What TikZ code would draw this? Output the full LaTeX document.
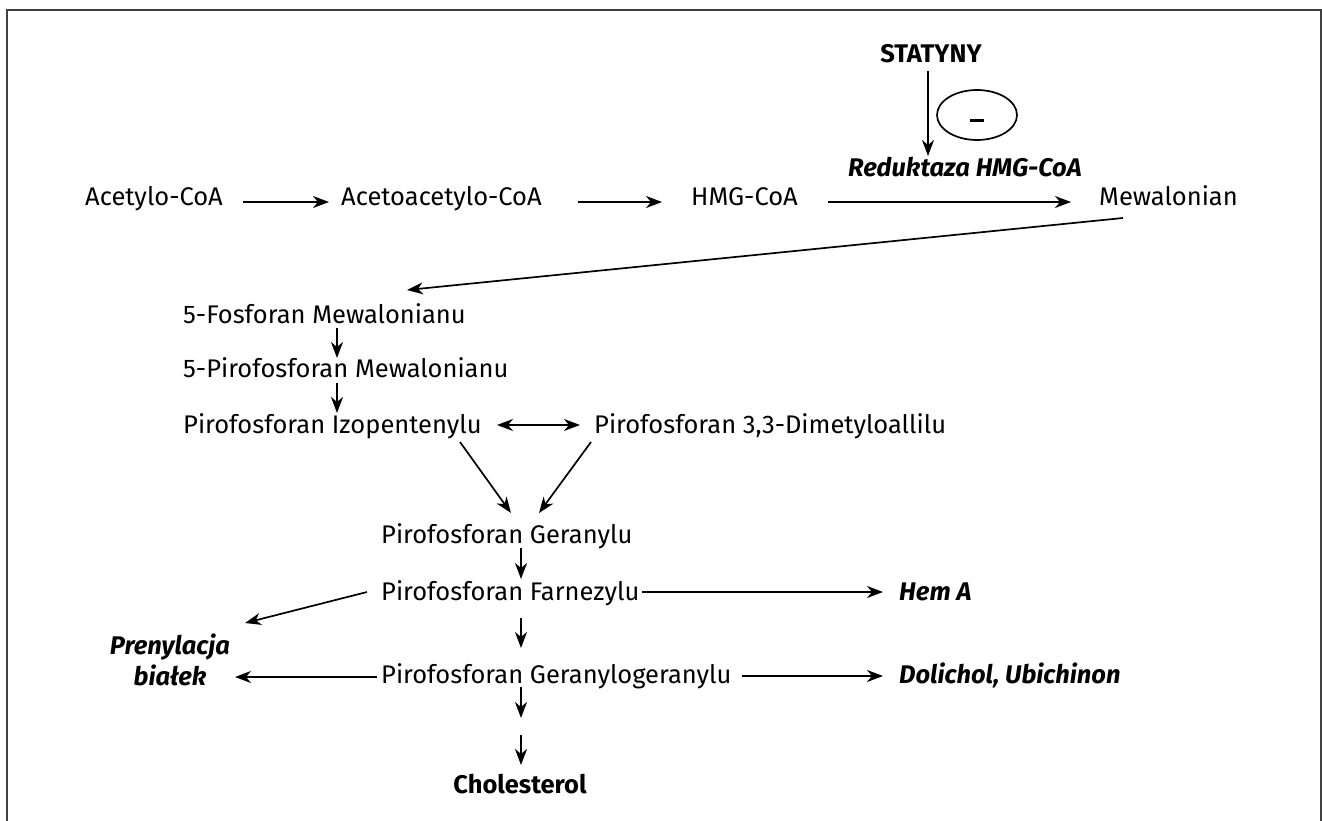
\documentclass[tikz,border=0pt]{standalone}
\usepackage{fontspec}
\setmainfont{Fira Sans}
\usetikzlibrary{arrows.meta, positioning, calc, shapes.geometric}

\tikzset{
  chem/.style={inner sep=0pt, font=\fontsize{25.5}{31}\selectfont},
  drug/.style={inner sep=0pt, font=\fontsize{25.5}{31}\selectfont\bfseries},
  prod/.style={inner sep=0pt, font=\fontsize{25.5}{31}\selectfont\bfseries\itshape, align=center},
  arr/.style={-{Stealth[length=16pt,width=12pt,inset=5pt]}, line width=1.7pt},
  dbl/.style={{Stealth[length=16pt,width=12pt,inset=5pt]}-{Stealth[length=16pt,width=12pt,inset=5pt]}, line width=1.7pt}
}

\begin{document}
\begin{tikzpicture}[x=1pt,y=-1pt]
\useasboundingbox (0,0) rectangle (1322,821);
% frame
\draw[black!75, line width=2pt] (7,821) -- (7,10) -- (1321,10) -- (1321,821);

% statins
\node[drug, anchor=base] (stat) at (931,63) {STATYNY};
\node[draw, ellipse, line width=1.7pt, minimum width=80pt, minimum height=50pt, inner sep=0pt,
      font=\fontsize{25.5}{31}\selectfont\bfseries] (inhib) at (977,115) {\raisebox{-15pt}{\rule{14pt}{3pt}}};
\node[prod, anchor=base west] (red) at (848,177) {Reduktaza HMG-CoA};

% upper row
\node[chem, anchor=base west] (acetyl) at (85,206) {Acetylo-CoA};
\node[chem, anchor=base west] (acac) at (341,206) {Acetoacetylo-CoA};
\node[chem, anchor=base west] (hmg) at (691,206) {HMG-CoA};
\node[chem, anchor=base west] (mew) at (1099,206) {Mewalonian};

% isoprenoids
\node[chem, anchor=base west] (fosf) at (183,323) {5-Fosforan Mewalonianu};
\node[chem, anchor=base west] (pfosf) at (183,377) {5-Pirofosforan Mewalonianu};
\node[chem, anchor=base west] (izo) at (183,433) {Pirofosforan Izopentenylu};
\node[chem, anchor=base west] (dma) at (594,433) {Pirofosforan 3,3-Dimetyloallilu};
\node[chem, anchor=base west] (ger) at (381,543) {Pirofosforan Geranylu};
\node[chem, anchor=base west] (far) at (381,600) {Pirofosforan Farnezylu};
\node[chem, anchor=base west] (gger) at (381,683) {Pirofosforan Geranylogeranylu};

% products
\node[prod, anchor=base west] (hem) at (899,600) {Hem A};
\node[prod, anchor=base west] (dol) at (899,683) {Dolichol, Ubichinon};
\node[prod] (pren) at (170,660) {Prenylacja\\białek};
\node[drug, anchor=base] (chol) at (520,793) {Cholesterol};

% arrows
\draw[arr] ($(stat.base)+(-3,8)$) -- ($(stat.base)+(-3,93)$);
\draw[arr] ($(acetyl.base west)+(158,-4)$) -- ($(acac.base west)+(-12,-4)$);
\draw[arr] ($(acac.base west)+(237,-4)$) -- ($(hmg.base west)+(-29,-4)$);
\draw[arr] ($(hmg.base west)+(137,-4)$) -- ($(mew.base west)+(-28,-4)$);
\draw[arr] ($(mew.base west)+(24,12)$) -- ($(fosf.base west)+(224,-33)$);
\draw[arr] ($(fosf.base west)+(154,5)$) -- ($(pfosf.base west)+(154,-19)$);
\draw[arr] ($(pfosf.base west)+(154,6)$) -- ($(izo.base west)+(154,-20)$);
\draw[dbl] ($(izo.base west)+(314,-8)$) -- ($(dma.base west)+(-14,-8)$);
\draw[arr] ($(izo.base west)+(277,9)$) -- ($(ger.base west)+(130,-30)$);
\draw[arr] ($(dma.base west)+(-3,9)$) -- ($(ger.base west)+(158,-30)$);
\draw[arr] ($(ger.base west)+(140,5)$) -- ($(far.base west)+(140,-21)$);
\draw[arr] ($(far.base west)+(261,-8)$) -- ($(hem.base west)+(-16,-8)$);
\draw[arr] ($(far.base west)+(-14,-8)$) -- ($(pren.center)+(75,-37)$);
\draw[arr] ($(far.base west)+(140,18)$) -- ($(gger.base west)+(140,-35)$);
\draw[arr] ($(gger.base west)+(-4,-6)$) -- ($(pren.center)+(65,17)$);
\draw[arr] ($(gger.base west)+(361,-7)$) -- ($(dol.base west)+(-16,-7)$);
\draw[arr] ($(gger.base west)+(140,4)$) -- ($(chol.base)+(1,-75)$);
\draw[arr] ($(chol.base)+(1,-58)$) -- ($(chol.base)+(1,-28)$);
\end{tikzpicture}
\end{document}
